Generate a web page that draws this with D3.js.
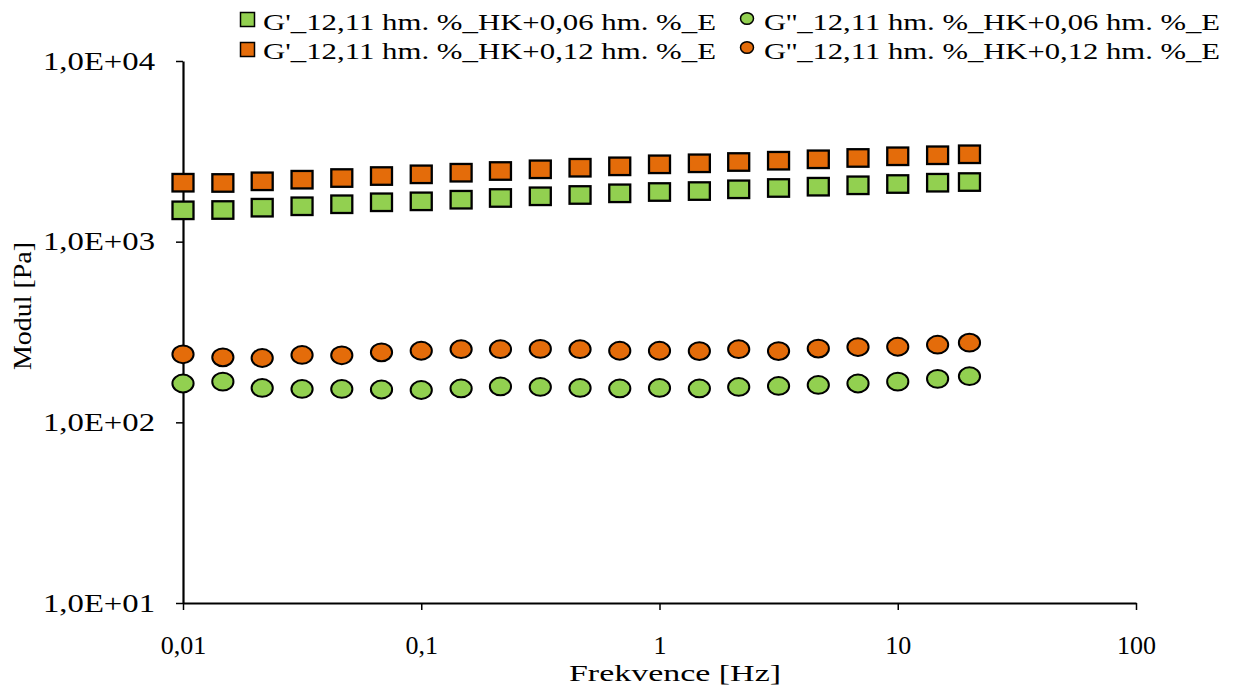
<!DOCTYPE html>
<html><head><meta charset="utf-8">
<script src="https://cdn.jsdelivr.net/npm/d3@7"></script>
<style>body{margin:0;background:#fff}svg{display:block}text{font-family:"Liberation Serif","Times New Roman",Tinos,serif;fill:#000}</style>
</head><body><svg id="c" width="1240" height="686"></svg>
<script>
const freq = [0.01,0.0147,0.0215,0.0316,0.0464,0.0681,0.1,0.147,0.215,0.316,0.464,0.681,1,1.47,2.15,3.16,4.64,6.81,10,14.7,20];
const gP_006 = [1491,1497,1542,1570,1611,1652,1672,1707,1745,1783,1813,1852,1883,1906,1949,1982,2015,2051,2085,2120,2138];
const gPP_006 = [164,168,155,153,153,152,151,154,158,157,155,154,155,154,157,159,161,164,168,174,180];
const gP_012 = [2120,2113,2158,2203,2250,2308,2359,2408,2461,2515,2566,2612,2680,2715,2760,2806,2857,2906,2969,3008,3046];
const gPP_012 = [238,229,227,236,235,244,249,254,254,255,254,249,249,248,254,248,256,261,262,269,276];
const seriesNames = ["G'_12,11 hm. %_HK+0,06 hm. %_E","G''_12,11 hm. %_HK+0,06 hm. %_E","G'_12,11 hm. %_HK+0,12 hm. %_E","G''_12,11 hm. %_HK+0,12 hm. %_E"];
const xTickValues = [0.01,0.1,1,10,100];
const xTickLabels = ["0,01","0,1","1","10","100"];
const yTickValues = [10,100,1000,10000];
const yTickLabels = ["1,0E+01","1,0E+02","1,0E+03","1,0E+04"];
const xTitle = "Frekvence  [Hz]";
const yTitle = "Modul [Pa]";

const GREEN = "#92D050", ORANGE = "#E46C0A";
const FONT = '"Liberation Serif","Times New Roman",Tinos,serif';
const series = [
  {name: seriesNames[0], vals: gP_006, color: GREEN, shape: "sq"},
  {name: seriesNames[1], vals: gPP_006, color: GREEN, shape: "ci"},
  {name: seriesNames[2], vals: gP_012, color: ORANGE, shape: "sq"},
  {name: seriesNames[3], vals: gPP_012, color: ORANGE, shape: "ci"}
];

const svg = d3.select("#c");
const x = d3.scaleLog().domain([0.01,100]).range([183,1136]);
const y = d3.scaleLog().domain([10,10000]).range([603,61]);

// axes
const xa = svg.append("g").attr("transform","translate(0,603)")
  .call(d3.axisBottom(x).tickValues(xTickValues).tickFormat((d,i)=>xTickLabels[i]).tickSize(7).tickSizeOuter(0).tickPadding(26));
xa.attr("font-family", FONT);
xa.select(".domain").attr("stroke","#000").attr("stroke-width",2.2);
xa.selectAll(".tick line").attr("stroke","#000").attr("stroke-width",1.5);
xa.selectAll(".tick text").attr("font-size",26).attr("fill","#000").attr("dy",null).attr("y",51);

const ya = svg.append("g").attr("transform","translate(183,0)")
  .call(d3.axisLeft(y).tickValues(yTickValues).tickFormat((d,i)=>yTickLabels[i]).tickSize(7).tickSizeOuter(0).tickPadding(21));
ya.attr("font-family", FONT);
ya.select(".domain").attr("stroke","#000").attr("stroke-width",2.2);
ya.selectAll(".tick line").attr("stroke","#000").attr("stroke-width",1.5);
ya.selectAll(".tick text").attr("font-size",26).attr("fill","#000")
  .attr("textLength",112).attr("lengthAdjust","spacingAndGlyphs");

// titles
svg.append("text").attr("x",675).attr("y",681).attr("text-anchor","middle").attr("font-size",24)
  .attr("font-family",FONT).attr("textLength",212).attr("lengthAdjust","spacingAndGlyphs").text(xTitle);
svg.append("text").attr("transform","translate(31,306) rotate(-90)").attr("text-anchor","middle").attr("font-size",25)
  .attr("font-family",FONT).attr("textLength",128).attr("lengthAdjust","spacingAndGlyphs").text(yTitle);

// markers
const W = 21, H = 17.5, RX = 10.6, RY = 8.9;
series.forEach(s => {
  const g = svg.append("g");
  const data = freq.map((f,i)=>({f, v: s.vals[i]}));
  if (s.shape === "sq") {
    g.selectAll("rect").data(data).join("rect")
      .attr("x", d=>x(d.f)-W/2).attr("y", d=>y(d.v)-H/2).attr("width",W).attr("height",H)
      .attr("fill", s.color).attr("stroke","#000").attr("stroke-width",2.3);
  } else {
    g.selectAll("ellipse").data(data).join("ellipse")
      .attr("cx", d=>x(d.f)).attr("cy", d=>y(d.v)).attr("rx",RX).attr("ry",RY)
      .attr("fill", s.color).attr("stroke","#000").attr("stroke-width",2);
  }
});

// legend
const leg = svg.append("g").attr("font-family",FONT);
const legPos = [
  {mx:247.5, tx:263, my:19.5, ty:30},
  {mx:747, tx:764, my:18.5, ty:30},
  {mx:247.5, tx:263, my:49.5, ty:59},
  {mx:747, tx:764, my:47.5, ty:59}
];
series.forEach((s,i) => {
  const p = legPos[i];
  if (s.shape === "sq") {
    leg.append("rect").attr("x",p.mx-7).attr("y",p.my-7).attr("width",14).attr("height",14)
      .attr("fill",s.color).attr("stroke","#000").attr("stroke-width",1.5);
  } else {
    leg.append("ellipse").attr("cx",p.mx).attr("cy",p.my).attr("rx",6.5).attr("ry",5.8)
      .attr("fill",s.color).attr("stroke","#000").attr("stroke-width",1.5);
  }
  leg.append("text").attr("x",p.tx).attr("y",p.ty).attr("font-size",23)
    .attr("textLength", i%2===0 ? 453 : 456).attr("lengthAdjust","spacingAndGlyphs").text(s.name);
});
</script></body></html>
